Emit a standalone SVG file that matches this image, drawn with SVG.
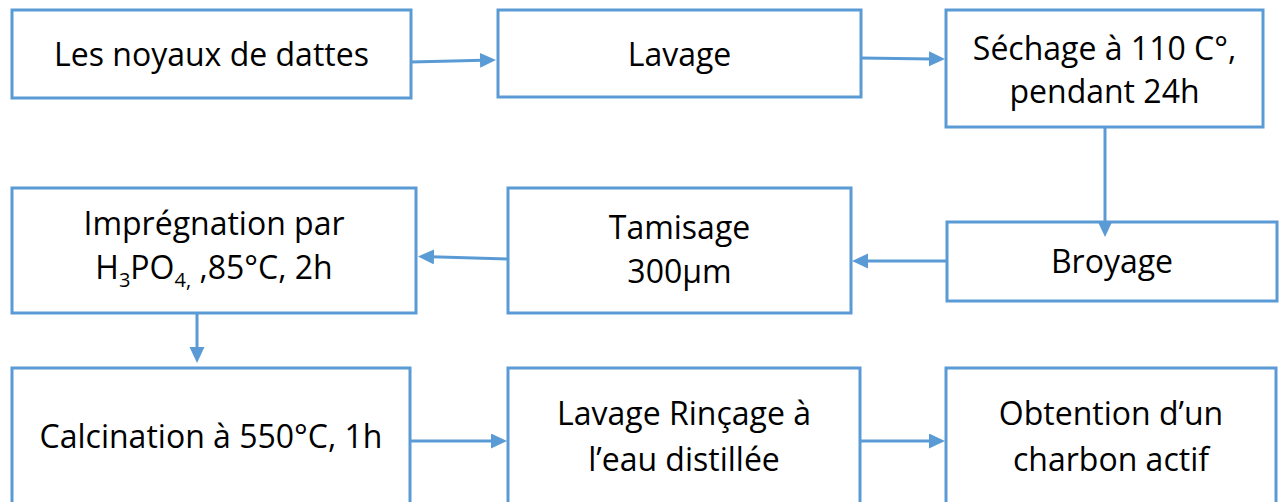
<svg xmlns="http://www.w3.org/2000/svg" width="1279" height="502" viewBox="0 0 1279 502">
<style>
.box{fill:#ffffff;stroke:#5B9BD5;stroke-width:3}
.t{font-family:"Open Sans","Noto Sans","Liberation Sans",sans-serif;font-size:32px;fill:#000000;text-anchor:middle}
.sub{font-size:20px}
.c{fill:none;stroke:#5B9BD5;stroke-width:3}
</style>
<defs>
<marker id="ah" markerUnits="userSpaceOnUse" markerWidth="17" markerHeight="16" refX="3" refY="7.5" orient="auto">
<path d="M0,0 L16,7.5 L0,15 z" fill="#5B9BD5"/>
</marker>
</defs>
<rect width="1279" height="502" fill="#ffffff"/>
<g id="n1"><rect class="box" x="12" y="10" width="399" height="88"/><text class="t" x="211.5" y="66">Les noyaux de dattes</text></g>
<g id="n2"><rect class="box" x="498" y="10" width="363" height="87"/><text class="t" x="679.5" y="66">Lavage</text></g>
<g id="n3"><rect class="box" x="946" y="10" width="317" height="117"/><text class="t" x="1104.5" y="60">Séchage à 110 C°,</text><text class="t" x="1104.5" y="103">pendant 24h</text></g>
<g id="n4"><rect class="box" x="947" y="222" width="330" height="79"/><text class="t" x="1112" y="273">Broyage</text></g>
<g id="n5"><rect class="box" x="508" y="188" width="343" height="125"/><text class="t" x="679.5" y="239">Tamisage</text><text class="t" x="679.5" y="283">300µm</text></g>
<g id="n6"><rect class="box" x="12" y="188" width="404" height="125"/><text class="t" x="214" y="235">Imprégnation par</text><text class="t" x="214" y="279">H<tspan class="sub" dy="8">3</tspan><tspan dy="-8">PO</tspan><tspan class="sub" dy="8">4,</tspan><tspan dy="-8"> ,85°C, 2h</tspan></text></g>
<g id="n7"><rect class="box" x="12" y="368" width="398" height="140"/><text class="t" x="211" y="448">Calcination à 550°C, 1h</text></g>
<g id="n8"><rect class="box" x="508" y="368" width="352" height="140"/><text class="t" x="684" y="425">Lavage Rinçage à</text><text class="t" x="684" y="471">l’eau distillée</text></g>
<g id="n9"><rect class="box" x="946" y="368" width="330" height="140"/><text class="t" x="1111" y="425">Obtention d’un</text><text class="t" x="1111" y="471">charbon actif</text></g>
<g id="connectors">
<line class="c" x1="411" y1="62" x2="483" y2="60.3" marker-end="url(#ah)"/>
<line class="c" x1="861" y1="58" x2="932" y2="58.9" marker-end="url(#ah)"/>
<line class="c" x1="1105" y1="127" x2="1105" y2="224" marker-end="url(#ah)"/>
<line class="c" x1="947" y1="261" x2="865" y2="261" marker-end="url(#ah)"/>
<line class="c" x1="508" y1="259" x2="431" y2="256.8" marker-end="url(#ah)"/>
<line class="c" x1="197" y1="313" x2="197" y2="350" marker-end="url(#ah)"/>
<line class="c" x1="410" y1="441" x2="494" y2="441" marker-end="url(#ah)"/>
<line class="c" x1="860" y1="441" x2="932" y2="441" marker-end="url(#ah)"/>
</g>
</svg>
